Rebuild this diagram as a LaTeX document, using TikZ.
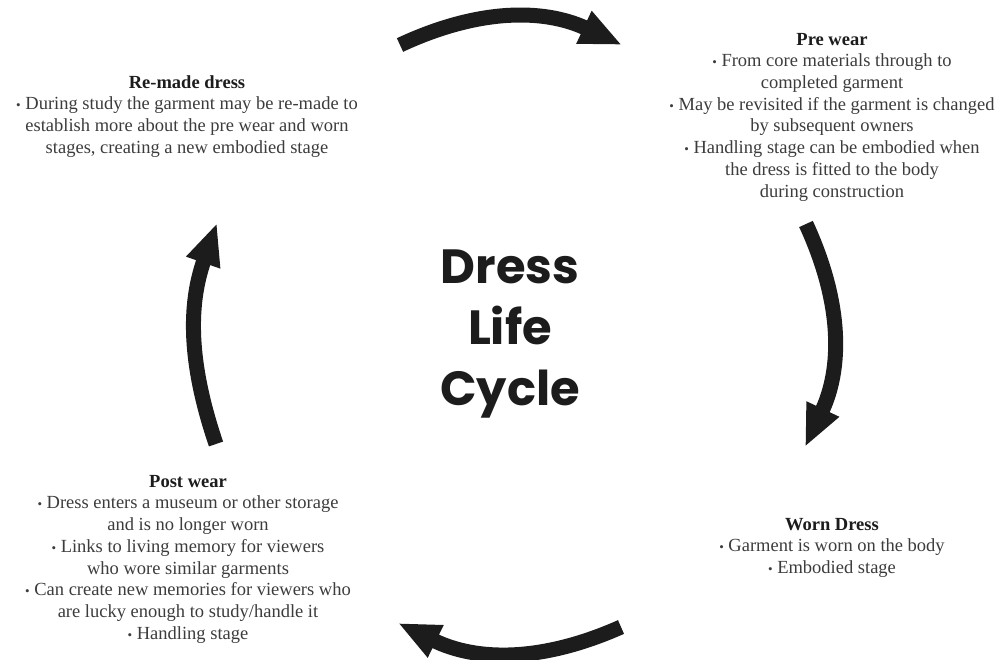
\documentclass[tikz,border=0pt]{standalone}
\usepackage{fontspec}
\setmainfont{Liberation Serif}
\newfontfamily\cyclefont{Poppins}
\usetikzlibrary{arrows.meta}
\definecolor{txt}{RGB}{60,60,60}
\definecolor{ink}{RGB}{28,28,28}
\tikzset{
  cyc/.style={line width=15pt, draw=ink, -{Triangle[length=42pt,width=33pt]}},
  block/.style={anchor=north, align=center, inner sep=0pt, text=txt, font=\fontsize{18.5}{21.7}\selectfont},
  centre/.style={anchor=north, align=center, inner sep=0pt, text=ink, font=\cyclefont\bfseries\fontsize{48}{61}\selectfont},
}
\newcommand{\hd}[1]{\rule{0pt}{14pt}{\bfseries\color{ink}#1}}
\newcommand{\bul}{{\fontsize{13}{13}\selectfont\textbullet}}
\begin{document}
\begin{tikzpicture}[x=1pt,y=-1pt]
\path[use as bounding box] (0,0) rectangle (1005,660);

\node[centre] (title) at (510,247) {\rule{0pt}{36pt}Dress\\Life\\Cycle};

\node[block] (pre) at (832,31) {\hd{Pre wear}\\
\bul{} From core materials through to\\
completed garment\\
\bul{} May be revisited if the garment is changed\\
by subsequent owners\\
\bul{} Handling stage can be embodied when\\
the dress is fitted to the body\\
during construction};

\node[block] (worn) at (832,516) {\hd{Worn Dress}\\
\bul{} Garment is worn on the body\\
\bul{} Embodied stage};

\node[block] (post) at (188,473) {\hd{Post wear}\\
\bul{} Dress enters a museum or other storage\\
and is no longer worn\\
\bul{} Links to living memory for viewers\\
who wore similar garments\\
\bul{} Can create new memories for viewers who\\
are lucky enough to study/handle it\\
\bul{} Handling stage};

\node[block] (remade) at (187,74) {\hd{Re-made dress}\\
\bul{} During study the garment may be re-made to\\
establish more about the pre wear and worn\\
stages, creating a new embodied stage};

\coordinate (t1) at (400,45);
\coordinate (t2) at (622,45);
\coordinate (r1) at (806,224);
\coordinate (r2) at (805,447);
\coordinate (b1) at (621,627);
\coordinate (b2) at (398,623);
\coordinate (l1) at (216,444);
\coordinate (l2) at (217,223);

\draw[cyc] (t1) to[bend left=25] (t2);
\draw[cyc] (r1) to[bend left=25] (r2);
\draw[cyc] (b1) to[bend left=25] (b2);
\draw[cyc] (l1) to[bend left=19] (l2);
\end{tikzpicture}
\end{document}
